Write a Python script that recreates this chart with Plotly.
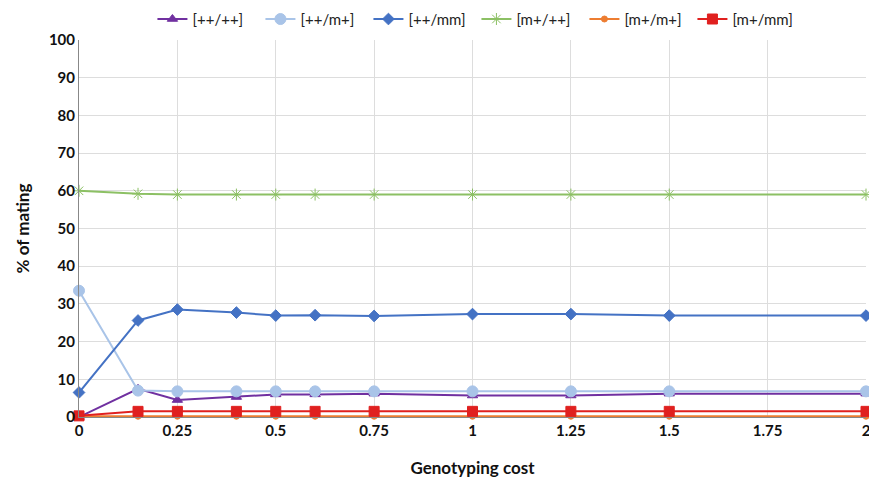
import plotly.graph_objects as go

cost = [0, 0.15, 0.25, 0.4, 0.5, 0.6, 0.75, 1, 1.25, 1.5, 2]
pp_pp = [0, 7.5, 4.5, 5.3, 6.0, 6.0, 6.2, 5.7, 5.7, 6.2, 6.2]
pp_mp = [33.5, 7.0, 6.8, 6.8, 6.8, 6.8, 6.8, 6.8, 6.8, 6.8, 6.8]
pp_mm = [6.5, 25.6, 28.5, 27.7, 26.9, 27.0, 26.8, 27.3, 27.3, 26.9, 26.9]
mp_pp = [60.0, 59.2, 59.0, 59.0, 59.0, 59.0, 59.0, 59.0, 59.0, 59.0, 59.0]
mp_mp = [0.2, 0.2, 0.2, 0.2, 0.2, 0.2, 0.2, 0.2, 0.2, 0.2, 0.2]
mp_mm = [0.3, 1.5, 1.5, 1.5, 1.5, 1.5, 1.5, 1.5, 1.5, 1.5, 1.5]

series = [
    ("[++/++]", pp_pp, "#7030A0", "triangle-up", 9),
    ("[++/m+]", pp_mp, "#A9C4E8", "circle", 11),
    ("[++/mm]", pp_mm, "#4472C4", "diamond", 9),
    ("[m+/++]", mp_pp, "#8CC064", "asterisk-open", 10),
    ("[m+/m+]", mp_mp, "#ED7D31", "circle", 6),
    ("[m+/mm]", mp_mm, "#E0201F", "square", 10),
]

fig = go.Figure()
for name, vals, color, sym, size in series:
    fig.add_trace(go.Scatter(
        x=cost, y=vals, name=name, mode="lines+markers",
        line=dict(color=color, width=2),
        marker=dict(symbol=sym, size=size, color=color,
                    line=dict(color=color, width=1)),
        cliponaxis=False,
    ))

font_family = "Lato, Open Sans, sans-serif"
fig.update_layout(
    width=869, height=480,
    margin=dict(l=79, r=3, t=40, b=63, autoexpand=False),
    plot_bgcolor="white", paper_bgcolor="white",
    font=dict(family=font_family, color="#222222"),
    legend=dict(orientation="h", x=0.505, xanchor="center", y=1.055, yanchor="middle",
                font=dict(size=15, color="#222222"), entrywidth=63,
                bgcolor="rgba(0,0,0,0)"),
    xaxis=dict(
        range=[0, 2], tickvals=[0, 0.25, 0.5, 0.75, 1, 1.25, 1.5, 1.75, 2],
        ticktext=["0", "0.25", "0.5", "0.75", "1", "1.25", "1.5", "1.75", "2"],
        showgrid=True, gridcolor="#DDDDDD", gridwidth=1,
        showline=True, linecolor="#888888", linewidth=1,
        zeroline=False, ticks="", automargin=False, ticklabeloverflow="allow",
        tickfont=dict(size=15, family=font_family, color="#111111", weight="bold"),
        title=dict(text="<b>Genotyping cost</b>", font=dict(size=17, color="#111111"), standoff=24),
    ),
    yaxis=dict(
        range=[0, 100], dtick=10,
        showgrid=True, gridcolor="#DDDDDD", gridwidth=1,
        showline=True, linecolor="#888888", linewidth=1,
        zeroline=False, ticks="", automargin=False,
        tickfont=dict(size=15, family=font_family, color="#111111", weight="bold"),
        title=dict(text="<b>% of mating</b>", font=dict(size=17, color="#111111"), standoff=14),
    ),
)

fig.write_html("out.html", config={"displayModeBar": False},
               post_script="document.body.style.margin='0';")
